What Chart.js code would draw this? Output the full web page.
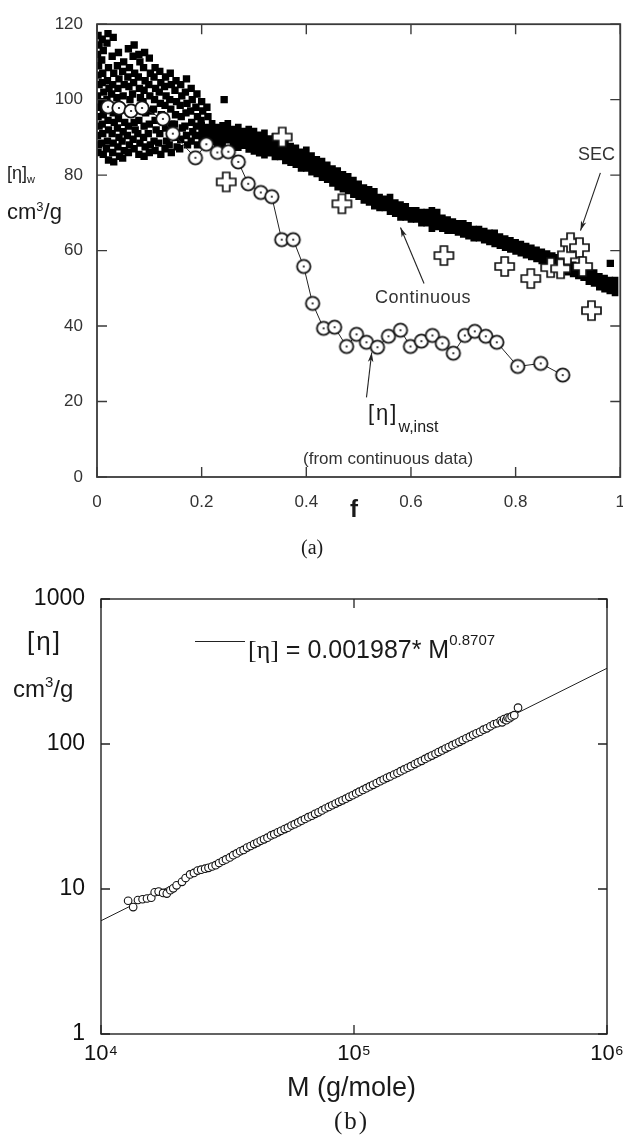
<!DOCTYPE html>
<html>
<head>
<meta charset="utf-8">
<script src="https://cdn.jsdelivr.net/npm/chart.js@4.4.1/dist/chart.umd.min.js"></script>
<style>
  html, body { margin: 0; padding: 0; background: #fff; }
  body { width: 623px; height: 1135px; overflow: hidden; position: relative;
         font-family: "Liberation Sans", Arial, sans-serif; color: #1a1a1a; }
  canvas { position: absolute; left: 0; }
  #chartA { top: 0; }
  #chartB { top: 560px; }
  .lbl { position: absolute; white-space: nowrap; line-height: 1; }
  .lbl sub, .lbl sup { line-height: 0; }
  .serif { font-family: "Liberation Serif", "Times New Roman", serif; }
</style>
</head>
<body>
<canvas id="chartA" width="640" height="530"></canvas>
<canvas id="chartB" width="640" height="540"></canvas>

<!-- panel (a) labels -->
<div class="lbl" style="left:7px;top:164px;font-size:18px;">[η]<sub style="font-size:11px;vertical-align:-4px;">w</sub></div>
<div class="lbl" style="left:7px;top:201px;font-size:22px;">cm<sup style="font-size:13px;vertical-align:8px;">3</sup>/g</div>
<div class="lbl" style="left:578px;top:145px;font-size:18px;color:#333;">SEC</div>
<div class="lbl" style="left:375px;top:288px;font-size:18px;letter-spacing:0.5px;color:#333;">Continuous</div>
<div class="lbl" style="left:368px;top:402px;font-size:22px;letter-spacing:2px;">[η]<sub style="font-size:16px;letter-spacing:0;vertical-align:-12px;">w,inst</sub></div>
<div class="lbl" style="left:303px;top:450px;font-size:17px;color:#333;">(from continuous data)</div>
<div class="lbl" style="left:350px;top:497px;font-size:24px;font-weight:bold;">f</div>
<div class="lbl serif" style="left:301px;top:537px;font-size:20px;">(a)</div>

<!-- panel (b) labels -->
<div class="lbl" style="left:27px;top:628px;font-size:26px;letter-spacing:2px;">[η]</div>
<div class="lbl" style="left:13px;top:677px;font-size:24px;">cm<sup style="font-size:15px;vertical-align:10px;">3</sup>/g</div>
<div style="position:absolute;left:195px;top:641px;width:50px;border-top:1px solid #222;"></div>
<div class="lbl" style="left:248px;top:637px;font-size:25px;"><span class="serif" style="font-size:26px;">[η]</span> = 0.001987* M<sup style="font-size:15px;vertical-align:13px;">0.8707</sup></div>
<div class="lbl" style="left:287px;top:1074px;font-size:27px;">M (g/mole)</div>
<div class="lbl serif" style="left:334px;top:1108px;font-size:25px;letter-spacing:2px;">(b)</div>

<script>
// ---- panel (a): [η]w against conversion f ----

// continuous detector data, scattered part at low conversion [f, η]
const contCloud = [
  [0.002,117],[0.004,114.5],[0.001,112],[0.003,109],[0.002,106.5],[0.004,104],[0.001,101],[0.003,98],[0.002,95.5],[0.004,93],[0.001,90.5],[0.003,88],[0.002,86],
  [0.010,116],[0.012,113],[0.009,110.5],[0.011,107],[0.010,104.5],[0.013,102],[0.009,99.5],[0.012,96],[0.010,93.5],[0.011,91],[0.009,88.5],[0.012,85.5],
  [0.021,117.5],[0.019,115],[0.022,108.5],[0.020,105],[0.023,103],[0.019,100],[0.021,94.5],[0.022,92],[0.020,89],[0.018,87],[0.022,84],
  [0.031,116.5],[0.029,111.5],[0.032,107],[0.030,104],[0.028,101.5],[0.031,96.5],[0.033,94],[0.029,91],[0.031,88.5],[0.030,86],[0.032,83.5],
  [0.041,112.5],[0.039,109],[0.042,105.5],[0.040,103],[0.038,100.5],[0.041,95],[0.039,92.5],[0.042,90],[0.040,87.5],[0.043,85],
  [0.051,110],[0.049,107.5],[0.052,104],[0.050,101],[0.053,94],[0.050,91.5],[0.048,89],[0.052,86.5],[0.049,84.5],
  [0.060,113.5],[0.062,108.5],[0.059,106],[0.061,103.5],[0.063,100],[0.060,93],[0.058,90.5],[0.062,88],[0.060,86],
  [0.071,114.5],[0.069,111.5],[0.072,107],[0.070,104.5],[0.068,101.5],[0.071,94],[0.073,92],[0.069,89.5],[0.071,87],
  [0.080,112],[0.082,110],[0.079,106],[0.081,103],[0.083,100.5],[0.080,94.5],[0.078,91],[0.082,88.5],[0.080,85.5],
  [0.091,112.5],[0.089,108.5],[0.092,105],[0.090,102.5],[0.088,99.5],[0.093,96.5],[0.090,93],[0.089,90],[0.092,87.5],[0.090,85],
  [0.100,111],[0.102,107],[0.099,104],[0.101,101],[0.103,97],[0.100,93.5],[0.098,91],[0.102,88],[0.100,86],
  [0.111,108.5],[0.109,106],[0.112,103],[0.110,100],[0.108,97.5],[0.111,94.5],[0.113,92],[0.109,89],[0.111,86.5],
  [0.120,107.5],[0.122,104.5],[0.119,102],[0.121,99],[0.123,96],[0.120,91],[0.118,88.5],[0.122,85.5],
  [0.131,106],[0.129,103.5],[0.132,101],[0.130,98.5],[0.128,95],[0.131,92.5],[0.133,89],[0.130,87],
  [0.140,107],[0.142,104],[0.139,100],[0.141,97.5],[0.143,93.5],[0.140,91],[0.138,88],[0.142,86],
  [0.151,105],[0.149,102.5],[0.152,99.5],[0.150,96],[0.148,93.5],[0.151,90],[0.153,87.5],
  [0.160,104],[0.162,101],[0.159,98.5],[0.161,95.5],[0.163,92.5],[0.160,89.5],[0.158,87],
  [0.171,105.5],[0.169,102],[0.172,99],[0.170,96.5],[0.168,93],[0.171,90.5],[0.173,88],
  [0.180,103],[0.182,100],[0.179,97],[0.181,94],[0.183,91.5],[0.180,89],
  [0.191,101.5],[0.189,98],[0.192,95.5],[0.190,93],[0.188,90.5],[0.192,88],
  [0.200,99.5],[0.202,97],[0.199,94.5],
  [0.210,98],[0.212,95.5],
  [0.243,100],[0.981,56.6]
];

// continuous detector data, dense trace: [f, lowest η, highest η] per column
const contBand = [
  [0.20,87.5,94],[0.21,87,93.5],[0.22,88,94.5],[0.23,87.5,93.5],[0.24,87,94],
  [0.25,88.5,94.5],[0.26,87,93],[0.27,86.5,93.5],[0.28,87,92.5],[0.29,86,93],
  [0.30,85.5,92.5],[0.31,85,91.5],[0.32,84.5,92],[0.33,85,90.5],[0.34,84,91],
  [0.35,84,90],[0.36,83,89.5],[0.37,82.5,88.5],[0.38,82,88],[0.39,81,87],
  [0.40,81,87.5],[0.41,80,86],[0.42,79.5,85],[0.43,78.5,84.5],[0.44,78,83.5],
  [0.45,77,82.5],[0.46,76,82],[0.47,75.5,81],[0.48,75,80.5],[0.49,74,79.5],
  [0.50,73.5,78.5],[0.51,72.5,77.5],[0.52,72,77],[0.53,71,76.5],[0.54,70.5,75],
  [0.55,70.5,74.5],[0.56,69.5,75],[0.57,69,73.5],[0.58,68,73],[0.59,68,72.5],
  [0.60,67.5,71.5],[0.61,67.5,71.5],[0.62,66.5,71],[0.63,66.5,71],[0.64,65,71.5],
  [0.65,65.5,71],[0.66,65,69.5],[0.67,64.5,69],[0.68,64.5,68.5],[0.69,64,68],
  [0.70,63.5,68],[0.71,63,67.5],[0.72,62.5,66.5],[0.73,62.5,66.5],[0.74,62,66],
  [0.75,61.5,65.5],[0.76,61,65.5],[0.77,60.5,64.5],[0.78,60,64],[0.79,59.5,63.5],
  [0.80,59,63],[0.81,58.5,62.5],[0.82,58,62],[0.83,57.5,61.5],[0.84,57,61],
  [0.85,56.5,60.5],[0.86,56,60],[0.87,55.5,59.5],[0.88,54.5,59],[0.89,54,58.5],
  [0.90,53.5,58],[0.91,53,57],[0.92,52.5,56.5],[0.93,52,56],[0.94,51,55.5],
  [0.95,50.5,55],[0.96,49.5,54],[0.97,49,53.5],[0.98,48.5,53],[0.99,48,53]
];

// instantaneous [η]w,inst derived from the continuous data
const instPoints = [
  [0.021,98.1],[0.042,97.8],[0.065,97.0],[0.086,97.8],[0.126,94.9],[0.145,91.0],
  [0.188,84.6],[0.209,88.2],[0.230,86.0],[0.251,86.2],[0.270,83.5],[0.289,77.7],
  [0.313,75.4],[0.334,74.3],[0.353,62.9],[0.375,62.9],[0.395,55.8],[0.412,46.0],
  [0.433,39.4],[0.454,39.7],[0.477,34.6],[0.496,37.8],[0.515,35.7],[0.536,34.4],
  [0.557,37.3],[0.580,38.9],[0.599,34.6],[0.620,36.0],[0.641,37.5],[0.660,35.4],
  [0.681,32.8],[0.703,37.5],[0.722,38.6],[0.743,37.3],[0.764,35.7],[0.804,29.3],
  [0.848,30.1],[0.890,27.0]
];

// SEC samples
const secPoints = [
  [0.247,78.2],[0.354,90.1],[0.468,72.4],[0.663,58.7],[0.779,55.8],[0.829,52.6],
  [0.867,55.5],[0.886,55.2],[0.899,58.9],[0.905,62.1],[0.922,60.8],[0.928,55.8],
  [0.945,44.1]
];

const xTicksA = [0, 0.2, 0.4, 0.6, 0.8, 1];
const yTicksA = [0, 20, 40, 60, 80, 100, 120];

// ---- panel (b): Mark-Houwink plot ----
const markHouwink = [
  [12.8e3,8.3],[13.4e3,7.5],[14.0e3,8.4],[14.6e3,8.5],[15.2e3,8.6],[15.8e3,8.7],
  [16.3e3,9.5],[16.9e3,9.6],[17.6e3,9.4],[18.2e3,9.3],[18.8e3,9.8],[19.3e3,10.1],
  [19.9e3,10.6],[20.9e3,11.2],[21.6e3,11.9],[22.5e3,12.6],[23.3e3,12.9],[24.1e3,13.4],
  [24.9e3,13.6],[25.8e3,13.8],[26.6e3,14.0],[27.5e3,14.3],[28.4e3,14.6],[29.3e3,15.1],
  [30.3e3,15.6],[31.2e3,16.0],[32.3e3,16.5],[33.3e3,17.1],[34.4e3,17.6],[35.5e3,18.2],
  [36.6e3,18.6],[37.8e3,19.3],[39.0e3,19.8],[40.3e3,20.4],[41.5e3,20.9],[42.8e3,21.5],
  [44.1e3,22.0],[45.5e3,22.6],[47.0e3,23.4],[48.4e3,23.9],[50.0e3,24.6],[51.5e3,25.2],
  [53.2e3,25.9],[54.8e3,26.5],[56.6e3,27.4],[58.3e3,28.0],[60.2e3,28.8],[62.0e3,29.6],
  [64.0e3,30.4],[66.0e3,31.3],[68.1e3,32.0],[70.2e3,33.0],[72.4e3,33.8],[74.7e3,34.8],
  [77.1e3,35.9],[79.5e3,36.8],[82.0e3,37.8],[84.6e3,38.8],[87.3e3,39.9],[90.0e3,40.9],
  [92.9e3,42.0],[95.8e3,43.2],[98.8e3,44.3],[102e3,45.6],[105e3,46.9],[108.5e3,48.2],
  [112e3,49.6],[115.5e3,51.0],[119e3,52.3],[123e3,53.8],[127e3,55.4],[131e3,56.9],
  [135e3,58.4],[139e3,59.8],[144e3,61.6],[148.5e3,63.1],[153e3,65.0],[158e3,66.8],
  [163e3,68.6],[168e3,70.3],[174e3,72.7],[179e3,74.6],[185e3,76.5],[191e3,78.9],
  [197e3,81.1],[203e3,83.2],[210e3,85.6],[216e3,88.0],[223e3,90.3],[230e3,93.0],
  [237e3,95.3],[245e3,98.2],[253e3,100.8],[261e3,103.5],[269e3,106.4],[278e3,109.6],
  [287e3,112.4],[296e3,115.8],[305e3,118.6],[315e3,121.5],[325e3,125.6],[335e3,128.2],
  [346e3,132.5],[357e3,136.8],[368e3,139.0],[380e3,144.6],[385e3,141.0],[392e3,148.5],
  [400e3,146.0],[405e3,152.0],[412e3,150.5],[420e3,155.0],[430e3,158.0],[445e3,178.0]
];

// fit coefficients printed in the legend: [η] = K * M^a
const fitK = 0.001987;
const fitA = 0.8707;
const fitRangeM = [1e4, 1e6];

const xTicksB = [1e4, 1e5, 1e6];
const yTicksB = [1, 10, 100, 1000];

const FONT = '"Liberation Sans", Arial, sans-serif';
const toXY = arr => arr.map(p => ({ x: p[0], y: p[1] }));

// open circle with a centre dot
function ringMarker(r) {
  const s = Math.ceil(r * 2 + 4);
  const c = document.createElement('canvas');
  c.width = c.height = s;
  const g = c.getContext('2d');
  g.beginPath();
  g.arc(s / 2, s / 2, r, 0, Math.PI * 2);
  g.fillStyle = '#fff';
  g.fill();
  g.lineWidth = 1.8;
  g.strokeStyle = '#111';
  g.stroke();
  g.beginPath();
  g.arc(s / 2, s / 2, 1.1, 0, Math.PI * 2);
  g.fillStyle = '#111';
  g.fill();
  return c;
}

// white plus sign with black outline
function plusMarker(L, w) {
  const s = L + 4;
  const c = document.createElement('canvas');
  c.width = c.height = s;
  const g = c.getContext('2d');
  const o = (s - L) / 2, a = o + (L - w) / 2, b = a + w, e = o + L;
  g.beginPath();
  g.moveTo(a, o); g.lineTo(b, o); g.lineTo(b, a); g.lineTo(e, a);
  g.lineTo(e, b); g.lineTo(b, b); g.lineTo(b, e); g.lineTo(a, e);
  g.lineTo(a, b); g.lineTo(o, b); g.lineTo(o, a); g.lineTo(a, a);
  g.closePath();
  g.fillStyle = '#fff';
  g.fill();
  g.lineWidth = 1.7;
  g.strokeStyle = '#111';
  g.stroke();
  return c;
}

// box round the plot area plus tick marks pointing inwards on all four sides
const frameTicks = {
  id: 'frameTicks',
  afterDatasetsDraw(chart, args, o) {
    const { ctx, chartArea: a, scales: { x, y } } = chart;
    ctx.save();
    ctx.strokeStyle = o.color;
    ctx.lineWidth = o.tickWidth;
    ctx.beginPath();
    x.ticks.forEach(t => {
      const px = x.getPixelForValue(t.value);
      ctx.moveTo(px, a.bottom); ctx.lineTo(px, a.bottom - o.len);
      ctx.moveTo(px, a.top); ctx.lineTo(px, a.top + o.len);
    });
    y.ticks.forEach(t => {
      const py = y.getPixelForValue(t.value);
      ctx.moveTo(a.left, py); ctx.lineTo(a.left + o.len, py);
      ctx.moveTo(a.right, py); ctx.lineTo(a.right - o.len, py);
    });
    ctx.stroke();
    ctx.lineWidth = o.width;
    ctx.strokeRect(a.left, a.top, a.right - a.left, a.bottom - a.top);
    ctx.restore();
  }
};

// pointer arrows for the annotations, ends given in data units
const pointers = {
  id: 'pointers',
  afterDatasetsDraw(chart, args, o) {
    const { ctx, scales: { x, y } } = chart;
    ctx.save();
    ctx.strokeStyle = '#222';
    ctx.fillStyle = '#222';
    ctx.lineWidth = 1.1;
    o.list.forEach(p => {
      const x0 = x.getPixelForValue(p.from[0]), y0 = y.getPixelForValue(p.from[1]);
      const x1 = x.getPixelForValue(p.to[0]), y1 = y.getPixelForValue(p.to[1]);
      const ang = Math.atan2(y1 - y0, x1 - x0);
      ctx.beginPath();
      ctx.moveTo(x0, y0);
      ctx.lineTo(x1, y1);
      ctx.stroke();
      ctx.beginPath();
      ctx.moveTo(x1, y1);
      ctx.lineTo(x1 - 10 * Math.cos(ang - 0.28), y1 - 10 * Math.sin(ang - 0.28));
      ctx.lineTo(x1 - 7 * Math.cos(ang), y1 - 7 * Math.sin(ang));
      ctx.lineTo(x1 - 10 * Math.cos(ang + 0.28), y1 - 10 * Math.sin(ang + 0.28));
      ctx.closePath();
      ctx.fill();
    });
    ctx.restore();
  }
};

const ring = ringMarker(6.7);
const plus = plusMarker(19, 7);

new Chart(document.getElementById('chartA'), {
  type: 'scatter',
  data: {
    datasets: [
      { label: 'SEC', data: toXY(secPoints), pointStyle: plus, order: 0 },
      { label: '[η]w,inst', data: toXY(instPoints), showLine: true, borderColor: '#222',
        borderWidth: 1, pointStyle: ring, order: 1 },
      { type: 'bar', label: 'Continuous', data: contBand.map(c => ({ x: c[0], y: [c[1], c[2]] })),
        backgroundColor: '#000', borderWidth: 0, barThickness: 6, order: 2 },
      { label: 'Continuous', data: toXY(contCloud), pointStyle: 'rect', pointRadius: 5.2,
        pointBackgroundColor: '#000', pointBorderWidth: 0, order: 3 }
    ]
  },
  options: {
    responsive: false,
    animation: false,
    events: [],
    layout: { padding: { top: 23, left: 0, right: 17.5, bottom: 0 } },
    plugins: {
      legend: { display: false },
      tooltip: { enabled: false },
      frameTicks: { color: '#3a3a3a', width: 1.8, tickWidth: 1.4, len: 10 },
      pointers: { list: [
        { from: [0.962, 80.6], to: [0.924, 65.3] },
        { from: [0.625, 51.3], to: [0.580, 66.1] },
        { from: [0.515, 21.1], to: [0.525, 33.0] }
      ] }
    },
    scales: {
      x: {
        type: 'linear', min: 0, max: 1, offset: false,
        grid: { display: false, drawTicks: false }, border: { display: false },
        afterBuildTicks: s => { s.ticks = xTicksA.map(v => ({ value: v })); },
        ticks: { padding: 15, color: '#333', maxRotation: 0, font: { family: FONT, size: 17 },
                 callback: v => String(v) },
        afterFit: s => { s.height = 53; }
      },
      y: {
        type: 'linear', min: 0, max: 120,
        grid: { display: false, drawTicks: false }, border: { display: false },
        afterBuildTicks: s => { s.ticks = yTicksA.map(v => ({ value: v })); },
        ticks: { padding: 14, color: '#333', font: { family: FONT, size: 17 },
                 callback: v => String(v) },
        afterFit: s => { s.width = 97; }
      }
    }
  },
  plugins: [frameTicks, pointers]
});

const sup = { 4: '\u2074', 5: '\u2075', 6: '\u2076' };

new Chart(document.getElementById('chartB'), {
  type: 'scatter',
  data: {
    datasets: [
      { label: 'data', data: toXY(markHouwink), pointRadius: 3.8, pointBorderWidth: 1.1,
        pointBorderColor: '#111', pointBackgroundColor: '#fff', order: 0 },
      { label: 'fit', data: fitRangeM.map(m => ({ x: m, y: fitK * Math.pow(m, fitA) })),
        showLine: true, borderColor: '#222', borderWidth: 1, pointRadius: 0, order: 1 }
    ]
  },
  options: {
    responsive: false,
    animation: false,
    events: [],
    layout: { padding: { top: 39, left: 0, right: 33, bottom: 0 } },
    plugins: {
      legend: { display: false },
      tooltip: { enabled: false },
      frameTicks: { color: '#222', width: 1.4, tickWidth: 1.3, len: 9 }
    },
    scales: {
      x: {
        type: 'logarithmic', min: 1e4, max: 1e6, offset: false,
        grid: { display: false, drawTicks: false }, border: { display: false },
        afterBuildTicks: s => { s.ticks = xTicksB.map(v => ({ value: v })); },
        ticks: { padding: 7, color: '#111', maxRotation: 0, font: { family: FONT, size: 22 },
                 callback: v => '10' + sup[Math.round(Math.log10(v))] },
        afterFit: s => { s.height = 66; }
      },
      y: {
        type: 'logarithmic', min: 1, max: 1000,
        grid: { display: false, drawTicks: false }, border: { display: false },
        afterBuildTicks: s => { s.ticks = yTicksB.map(v => ({ value: v })); },
        ticks: { padding: 16, color: '#111', font: { family: FONT, size: 23 },
                 callback: v => String(v) },
        afterFit: s => { s.width = 101; }
      }
    }
  },
  plugins: [frameTicks]
});
</script>
</body>
</html>
